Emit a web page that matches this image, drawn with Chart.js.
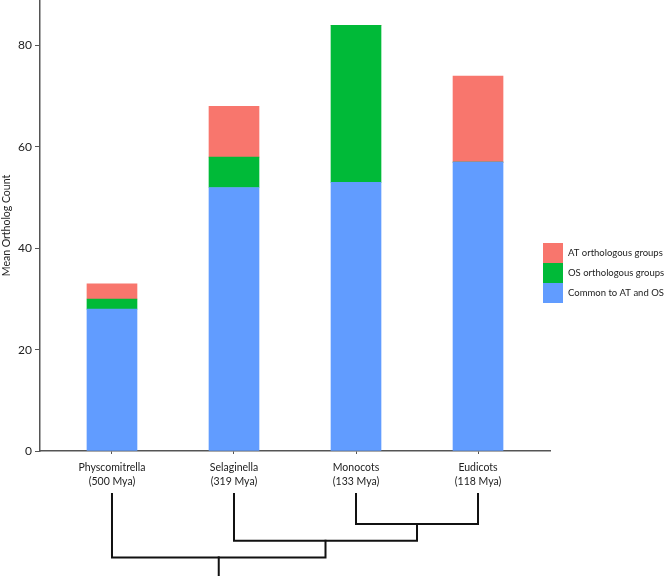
<!DOCTYPE html>
<html>
<head>
<meta charset="utf-8">
<script src="https://cdn.jsdelivr.net/npm/chart.js@4"></script>
<style>
  html, body { margin: 0; padding: 0; background: #fff; }
  #wrap { width: 666px; height: 576px; position: relative; }
</style>
</head>
<body>
<div id="wrap"><canvas id="orthoChart"></canvas></div>
<script>
//
// data
//
const species = [["Physcomitrella", "(500 Mya)"], ["Selaginella", "(319 Mya)"], ["Monocots", "(133 Mya)"], ["Eudicots", "(118 Mya)"]];
const commonValues = [28, 52, 53, 57];
const osValues = [2, 6, 31, 0];
const atValues = [3, 10, 0, 17];
const yTickValues = [0, 20, 40, 60, 80];
// clade joins: leaves are 0..3, join k makes node 4 + k
const cladeJoins = [[2, 3], [1, 4], [0, 5]];

const FONT = "Lato, 'DejaVu Sans', sans-serif";
const toPoints = arr => arr.map((v, i) => ({x: i, y: v}));

// legend on the right, drawn next to the plot
const sideLegend = {
  id: 'sideLegend',
  afterDraw(chart) {
    const ctx = chart.ctx;
    const area = chart.chartArea;
    const items = chart.data.datasets.slice().reverse();
    const x0 = area.right - 7;
    let y0 = area.top + 243;
    ctx.save();
    ctx.font = "9.5px " + FONT;
    ctx.textBaseline = 'middle';
    items.forEach(ds => {
      ctx.fillStyle = ds.backgroundColor;
      ctx.fillRect(x0, y0, 20, 20);
      ctx.fillStyle = '#222';
      ctx.fillText(ds.label, x0 + 25, y0 + 10);
      y0 += 20;
    });
    ctx.restore();
  }
};

// dendrogram under the x labels
const cladeTree = {
  id: 'cladeTree',
  afterDraw(chart) {
    const ctx = chart.ctx;
    const xs = chart.scales.x;
    const base = chart.chartArea.bottom;
    const pos = species.map((s, i) => i);
    const top = species.map(() => base + 43);
    const levelY = k => base + 73 + k * 16.7;
    ctx.save();
    ctx.strokeStyle = '#111';
    ctx.lineWidth = 2;
    ctx.lineCap = 'square';
    cladeJoins.forEach((pair, k) => {
      const [a, b] = pair;
      const y = levelY(k);
      const xa = xs.getPixelForValue(pos[a]);
      const xb = xs.getPixelForValue(pos[b]);
      ctx.beginPath();
      ctx.moveTo(xa, top[a]); ctx.lineTo(xa, y);
      ctx.lineTo(xb, y); ctx.lineTo(xb, top[b]);
      ctx.stroke();
      pos.push((pos[a] + pos[b]) / 2);
      top.push(y);
    });
    const root = pos.length - 1;
    const xr = xs.getPixelForValue(pos[root]);
    ctx.beginPath();
    ctx.moveTo(xr, top[root]); ctx.lineTo(xr, chart.height + 2);
    ctx.stroke();
    ctx.restore();
  }
};

const orthoChart = new Chart("orthoChart", {
  type: "bar",
  data: {
    datasets: [{
        label: 'Common to AT and OS',
        backgroundColor: "#619CFF",
        data: toPoints(commonValues)
      },
      {
        label: 'OS orthologous groups',
        backgroundColor: "#00BA38",
        data: toPoints(osValues)
      },
      {
        label: 'AT orthologous groups',
        backgroundColor: "#F8766D",
        data: toPoints(atValues)
      }]
  },
  options: {
    responsive: true,
    maintainAspectRatio: false,
    animation: false,
    events: [],
    barThickness: 50,
    borderWidth: 0,
    layout: {autoPadding: false, padding: {top: 0, left: 0, right: 116, bottom: 89}},
    plugins: {
      legend: {display: false},
      tooltip: {enabled: false}
    },
    scales: {
      x: {
        type: 'linear',
        stacked: true,
        offset: false,
        min: -0.59,
        max: 3.59,
        afterBuildTicks: s => { s.ticks = species.map((n, i) => ({value: i})); },
        afterFit: s => { s.height = 36; s.paddingLeft = 0; s.paddingRight = 0; },
        border: {color: '#555', width: 1.5},
        grid: {drawOnChartArea: false, tickLength: 3, color: '#555', offset: false},
        ticks: {
          padding: 7,
          color: '#222',
          font: {family: FONT, size: 10.5, lineHeight: 1.33},
          maxRotation: 0,
          autoSkip: false,
          callback: v => species[v]
        }
      },
      y: {
        stacked: true,
        min: 0,
        max: 89,
        afterBuildTicks: s => { s.ticks = yTickValues.map(v => ({value: v})); },
        afterFit: s => { s.width = 40; s.paddingTop = 0; s.paddingBottom = 0; },
        border: {color: '#555', width: 1.5},
        grid: {drawOnChartArea: false, tickLength: 5, color: '#555'},
        ticks: {
          padding: 3,
          color: '#222',
          font: {family: FONT, size: 12}
        },
        title: {
          display: true,
          text: 'Mean Ortholog Count',
          color: '#222',
          padding: 0,
          font: {family: FONT, size: 10.5}
        }
      }
    }
  },
  plugins: [sideLegend, cladeTree]
});
</script>
</body>
</html>
